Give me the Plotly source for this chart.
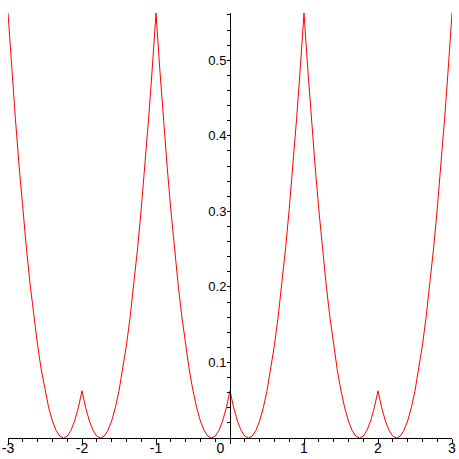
import plotly.graph_objects as go

x_values = [round(-3 + 0.05 * i, 2) for i in range(121)]

y_values = [
    0.5625, 0.49, 0.4225, 0.36, 0.3025, 0.25, 0.2025, 0.16, 0.1225, 0.09,
    0.0625, 0.04, 0.0225, 0.01, 0.0025, 0.0, 0.0025, 0.01, 0.0225, 0.04,
    0.0625,
    0.04, 0.0225, 0.01, 0.0025, 0.0, 0.0025, 0.01, 0.0225, 0.04, 0.0625,
    0.09, 0.1225, 0.16, 0.2025, 0.25, 0.3025, 0.36, 0.4225, 0.49, 0.5625,
    0.49, 0.4225, 0.36, 0.3025, 0.25, 0.2025, 0.16, 0.1225, 0.09, 0.0625,
    0.04, 0.0225, 0.01, 0.0025, 0.0, 0.0025, 0.01, 0.0225, 0.04, 0.0625,
    0.04, 0.0225, 0.01, 0.0025, 0.0, 0.0025, 0.01, 0.0225, 0.04, 0.0625,
    0.09, 0.1225, 0.16, 0.2025, 0.25, 0.3025, 0.36, 0.4225, 0.49, 0.5625,
    0.49, 0.4225, 0.36, 0.3025, 0.25, 0.2025, 0.16, 0.1225, 0.09, 0.0625,
    0.04, 0.0225, 0.01, 0.0025, 0.0, 0.0025, 0.01, 0.0225, 0.04, 0.0625,
    0.04, 0.0225, 0.01, 0.0025, 0.0, 0.0025, 0.01, 0.0225, 0.04, 0.0625,
    0.09, 0.1225, 0.16, 0.2025, 0.25, 0.3025, 0.36, 0.4225, 0.49, 0.5625,
]

x_tick_vals = [-3, -2, -1, 0, 1, 2, 3]
x_tick_text = ["-3", "-2", "-1", "0&nbsp;&nbsp;&nbsp;&nbsp;&nbsp;", "1", "2", "3"]
y_tick_vals = [0.1, 0.2, 0.3, 0.4, 0.5]
y_tick_text = ["0.1", "0.2", "0.3", "0.4", "0.5"]

fig = go.Figure()
fig.add_trace(go.Scatter(
    x=x_values, y=y_values, mode="lines",
    line=dict(color="#ff0000", width=1),
    hoverinfo="skip", showlegend=False,
))

xfont = dict(family="Liberation Sans, Arial, sans-serif", size=14, color="black")
yfont = dict(family="Liberation Sans, Arial, sans-serif", size=13, color="black")

fig.update_layout(
    width=459, height=459,
    margin=dict(l=8, r=7, t=13, b=21),
    paper_bgcolor="white", plot_bgcolor="white",
    font=yfont,
    xaxis=dict(
        range=[-3, 3], showgrid=False, zeroline=False, automargin=False,
        showline=True, linecolor="black", linewidth=1,
        ticks="outside", ticklen=5, tickcolor="black", tickwidth=1,
        tickvals=x_tick_vals, ticktext=x_tick_text,
        minor=dict(dtick=0.2, tick0=0, ticks="outside", ticklen=3,
                   tickcolor="black", tickwidth=1, showgrid=False),
        anchor="y", tickfont=xfont, ticklabelstandoff=-8,
    ),
    yaxis=dict(
        range=[0, 0.5625], showgrid=False, zeroline=False, automargin=False,
        showline=True, linecolor="black", linewidth=1,
        ticks="outside", ticklen=3, tickcolor="black", tickwidth=1,
        tickvals=y_tick_vals, ticktext=y_tick_text,
        minor=dict(dtick=0.02, tick0=0, ticks="outside", ticklen=3,
                   tickcolor="black", tickwidth=1, showgrid=False),
        anchor="free", position=0.5, side="left", tickfont=yfont,
        ticklabelstandoff=-2,
    ),
)

fig.write_html("out.html", config={"displayModeBar": False},
               post_script="document.body.style.margin='0px';")
